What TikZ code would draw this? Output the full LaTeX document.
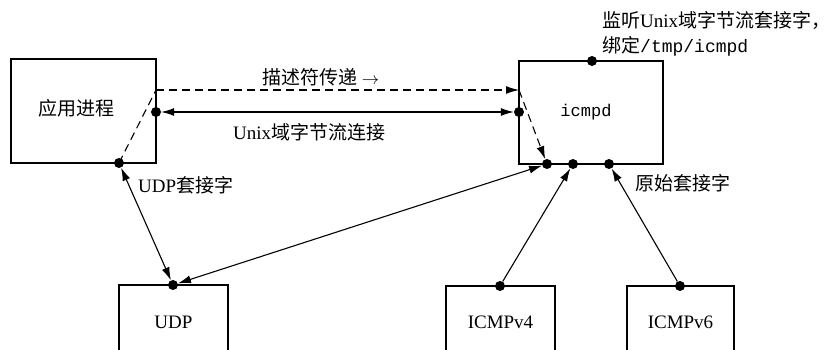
\documentclass[tikz,border=0pt]{standalone}
\usepackage{fontspec}
\setmainfont{Liberation Serif}
\setmonofont{Liberation Mono}
\newfontfamily\cjk{Noto Sans CJK SC}
\usetikzlibrary{arrows.meta}
\begin{document}
\begin{tikzpicture}[x=1pt,y=-1pt,
  box/.style={draw, line width=1.1pt, inner sep=0pt, font=\fontsize{19}{22}\selectfont},
  dot/.style={circle, fill, inner sep=0pt, minimum size=10pt},
  conn/.style={line width=1.1pt},
  dsh/.style={conn, dash pattern=on 8pt off 5pt},
  tip/.style={-{Latex[length=13pt,width=8pt]}},
  both/.style={{Latex[length=13pt,width=8pt]}-{Latex[length=13pt,width=8pt]}},
  lbl/.style={font=\fontsize{19}{22}\selectfont, inner sep=0pt, anchor=west},
]
\useasboundingbox (0,0) rectangle (831,350);
\clip (0,0) rectangle (831,350);
% boxes
\node[box, minimum width=145pt, minimum height=104pt] (app) at (83.5,111) {};
\node[lbl, anchor=center] (apptext) at (76,108) {\cjk 应用进程};
\node[box, minimum width=144pt, minimum height=103pt] (icmpd) at (591,112.5) {};
\node[font=\fontsize{17}{20}\selectfont\ttfamily, inner sep=0pt] (ictext) at (586,112) {icmpd};
\node[box, minimum width=109pt, minimum height=74pt] (udp) at (173.5,322) {UDP};
\node[box, minimum width=109pt, minimum height=72pt] (v4) at (500.5,322) {ICMPv4};
\node[box, minimum width=107pt, minimum height=72pt] (v6) at (680.5,322) {ICMPv6};
% dots
\node[dot] (appR) at (156,112) {};
\node[dot] (appB) at (119,163) {};
\node[dot] (icL) at (519,112) {};
\node[dot] (icT) at (592,61) {};
\node[dot] (icB1) at (547,164) {};
\node[dot] (icB2) at (573,164) {};
\node[dot] (icB3) at (609,164) {};
\node[dot] (udpT) at (173,285) {};
\node[dot] (v4T) at (500,286) {};
\node[dot] (v6T) at (680,286) {};
\coordinate (appC) at (156,90);
\coordinate (icC) at (519,90);
% connectors
\draw[dsh] (appB.center) -- (appC);
\draw[dsh, tip] (appC) -- (icC);
\draw[dsh, tip] (icC) -- (icB1);
\draw[conn, both] (appR) -- (icL);
\draw[conn, both] (appB) -- (udpT);
\draw[conn, both] (icB1) -- (udpT);
\draw[conn, tip] (v4T) -- (icB2);
\draw[conn, tip] (v6T) -- (icB3);
% labels
\node[lbl] (l1) at (262,77) {{\cjk 描述符传递} $\rightarrow$};
\node[lbl] (l2) at (233,132) {Unix{\cjk 域字节流连接}};
\node[lbl] (l3) at (138,185) {UDP{\cjk 套接字}};
\node[lbl] (l4) at (635,183) {\cjk 原始套接字};
\node[lbl] (l5) at (602,20) {{\cjk 监听}Unix{\cjk 域字节流套接字，}};
\node[lbl] (l6) at (602,46) {{\cjk 绑定}{\fontsize{18}{22}\selectfont\ttfamily /tmp/icmpd}};
\end{tikzpicture}
\end{document}
